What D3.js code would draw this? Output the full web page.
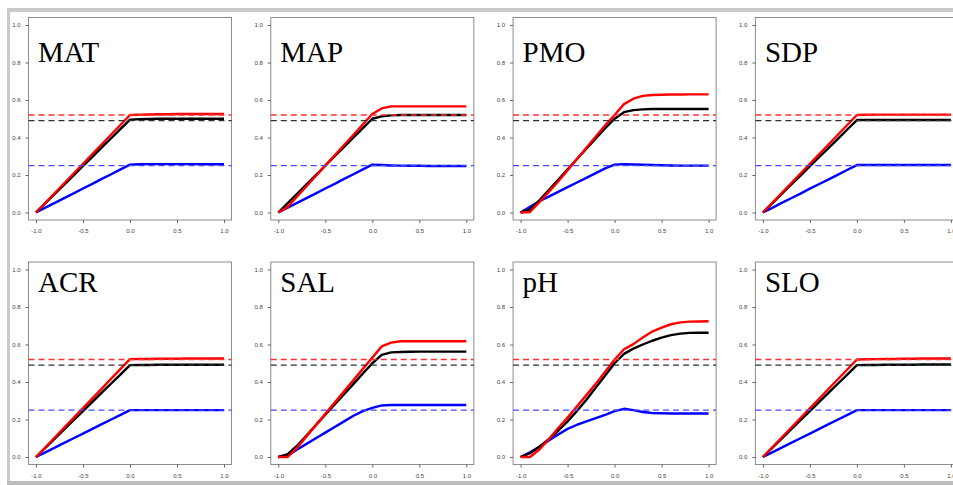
<!DOCTYPE html>
<html>
<head>
<meta charset="utf-8">
<script src="https://cdn.jsdelivr.net/npm/d3@7"></script>
<style>
  body { margin: 0; background: #fff; }
  svg { display: block; }
</style>
</head>
<body>
<div id="chart"></div>
<script>
// data
var panels = ["MAT", "MAP", "PMO", "SDP", "ACR", "SAL", "pH", "SLO"];
var xGrid = [-1, -0.9, -0.8, -0.7, -0.6, -0.5, -0.4, -0.3, -0.2, -0.1, 0,
             0.1, 0.2, 0.3, 0.4, 0.5, 0.6, 0.7, 0.8, 0.9, 1];
var xTicks = [-1, -0.5, 0, 0.5, 1];
var yTicks = [0, 0.2, 0.4, 0.6, 0.8, 1];
var refValues = [0.52, 0.49, 0.25];   // dashed reference lines: red, black, blue

var matRed   = [0, .052, .104, .156, .208, .26, .312, .364, .416, .468, .52, .522, .523, .524, .524, .525, .525, .525, .525, .525, .525];
var matBlack = [0, .05, .099, .149, .198, .248, .297, .347, .396, .446, .495, .498, .499, .5, .5, .5, .5, .5, .5, .5, .5];
var matBlue  = [0, .026, .051, .077, .102, .128, .153, .179, .204, .23, .255, .257, .258, .258, .258, .258, .258, .258, .257, .257, .257];

var mapRed   = [0, .03, .085, .14, .195, .25, .305, .36, .415, .47, .525, .555, .566, .566, .566, .566, .566, .566, .566, .566, .566];
var mapBlack = [0, .05, .1, .15, .2, .25, .3, .35, .4, .45, .5, .513, .518, .52, .52, .52, .52, .52, .52, .52, .52];
var mapBlue  = [0, .026, .051, .077, .102, .128, .153, .179, .204, .23, .255, .253, .251, .25, .249, .249, .248, .248, .248, .248, .248];

var pmoRed   = [0, .003, .055, .11, .165, .225, .285, .345, .405, .465, .52, .578, .607, .622, .627, .628, .629, .629, .63, .63, .63];
var pmoBlack = [0, .015, .065, .12, .175, .23, .285, .34, .395, .45, .5, .535, .546, .55, .552, .552, .552, .552, .552, .552, .552];
var pmoBlue  = [0, .03, .06, .085, .11, .135, .16, .185, .21, .235, .255, .258, .256, .255, .253, .252, .251, .25, .25, .25, .25];

var sdpRed   = [0, .052, .104, .156, .208, .26, .312, .364, .416, .468, .52, .521, .522, .522, .522, .522, .522, .522, .522, .522, .522];
var sdpBlack = [0, .049, .099, .148, .197, .247, .296, .345, .394, .444, .493, .493, .493, .493, .493, .493, .493, .493, .493, .493, .493];
var sdpBlue  = [0, .025, .051, .076, .101, .127, .152, .177, .202, .228, .253, .253, .253, .253, .253, .253, .253, .253, .253, .253, .253];

var acrRed   = [0, .052, .104, .157, .209, .261, .313, .365, .418, .47, .522, .523, .523, .524, .524, .524, .525, .525, .525, .525, .525];
var acrBlack = [0, .049, .098, .147, .196, .245, .294, .343, .392, .441, .49, .491, .491, .492, .492, .492, .492, .492, .492, .492, .492];
var acrBlue  = [0, .025, .05, .075, .1, .125, .15, .175, .2, .225, .25, .25, .25, .25, .25, .25, .25, .25, .25, .25, .25];

var salRed   = [0, 0, .05, .11, .17, .23, .29, .35, .41, .47, .53, .59, .61, .617, .617, .617, .617, .617, .617, .617, .617];
var salBlack = [0, .015, .06, .115, .17, .225, .28, .335, .39, .445, .5, .545, .558, .56, .561, .562, .562, .562, .562, .562, .562];
var salBlue  = [0, .006, .04, .07, .1, .13, .16, .19, .22, .245, .262, .275, .277, .277, .277, .277, .277, .277, .277, .277, .277];

var phRed    = [0, 0, .04, .095, .155, .21, .27, .33, .39, .455, .52, .575, .602, .637, .669, .69, .708, .718, .722, .723, .724];
var phBlack  = [0, .02, .055, .095, .14, .19, .245, .305, .37, .435, .5, .55, .578, .6, .62, .637, .65, .658, .662, .663, .663];
var phBlue   = [0, .025, .055, .088, .12, .15, .172, .19, .207, .225, .245, .257, .25, .24, .235, .233, .232, .232, .232, .232, .232];

var sloRed   = [0, .052, .104, .156, .208, .26, .312, .364, .416, .468, .52, .521, .522, .523, .523, .524, .524, .525, .525, .525, .525];
var sloBlack = [0, .049, .098, .147, .196, .245, .294, .343, .392, .441, .49, .491, .491, .492, .492, .492, .492, .493, .493, .493, .493];
var sloBlue  = [0, .025, .05, .075, .1, .125, .15, .175, .2, .225, .25, .25, .25, .25, .25, .25, .25, .25, .25, .25, .25];

var seriesByPanel = {
  MAT: [matBlue, matBlack, matRed],
  MAP: [mapBlue, mapBlack, mapRed],
  PMO: [pmoBlue, pmoBlack, pmoRed],
  SDP: [sdpBlue, sdpBlack, sdpRed],
  ACR: [acrBlue, acrBlack, acrRed],
  SAL: [salBlue, salBlack, salRed],
  pH:  [phBlue, phBlack, phRed],
  SLO: [sloBlue, sloBlack, sloRed]
};

// attr
var W = 953, H = 485;
var colors = ["#0000ff", "#000000", "#ff0000"];          // blue, black, red solids
var dashColors = ["#ff3030", "#303030", "#4848ff"];      // red, black, blue dashed
var colStep = 242.3, rowStep = 244.5;
var titleY = [62, 292];

var svg = d3.select("#chart")
  .append("svg")
  .attr("width", W)
  .attr("height", H);

// outer grey frame
svg.append("rect").attr("x", 7).attr("y", 8).attr("width", W).attr("height", 4).attr("fill", "#cacaca");
svg.append("rect").attr("x", 7).attr("y", 8).attr("width", 3).attr("height", H).attr("fill", "#cacaca");
svg.append("rect").attr("x", 7).attr("y", 481).attr("width", W).attr("height", 4).attr("fill", "#bdbdbd");

var fmt = function(d) { return d.toFixed(1); };

panels.forEach(function(name, i) {
  var c = i % 4, r = Math.floor(i / 4);
  var x = d3.scaleLinear().domain([-1, 1]).range([36 + c * colStep, 224 + c * colStep]);
  var y = d3.scaleLinear().domain([0, 1]).range([212.5 + r * rowStep, 25 + r * rowStep]);

  var g = svg.append("g").attr("class", "panel");
  var bx0 = x(-1.08), bx1 = x(1.08), by0 = y(1.04), by1 = y(-0.04);

  // box
  g.append("rect")
    .attr("x", bx0).attr("y", by0)
    .attr("width", bx1 - bx0).attr("height", by1 - by0)
    .attr("fill", "none")
    .attr("stroke", "#8c8c8c")
    .attr("stroke-width", 1);

  // axes
  var ax = g.append("g")
    .attr("transform", "translate(0," + by1 + ")")
    .call(d3.axisBottom(x).tickValues(xTicks).tickFormat(fmt).tickSize(3).tickSizeOuter(0).tickPadding(6));
  var ay = g.append("g")
    .attr("transform", "translate(" + bx0 + ",0)")
    .call(d3.axisLeft(y).tickValues(yTicks).tickFormat(fmt).tickSize(3).tickSizeOuter(0).tickPadding(5));
  [ax, ay].forEach(function(a) {
    a.select(".domain").remove();
    a.selectAll("line").attr("stroke", "#666");
    a.selectAll("text")
      .attr("fill", "#444")
      .style("font-family", "'Liberation Sans', Arial, sans-serif")
      .style("font-size", "6px");
  });

  // solid curves
  var line = d3.line()
    .x(function(d, k) { return x(xGrid[k]); })
    .y(function(d) { return y(d); });
  seriesByPanel[name].forEach(function(vals, k) {
    g.append("path")
      .datum(vals)
      .attr("d", line)
      .attr("fill", "none")
      .attr("stroke", colors[k])
      .attr("stroke-width", 2.4)
      .attr("stroke-linejoin", "round");
  });

  // dashed reference lines
  refValues.forEach(function(v, k) {
    g.append("line")
      .attr("x1", bx0).attr("x2", bx1)
      .attr("y1", y(v)).attr("y2", y(v))
      .attr("stroke", dashColors[k])
      .attr("stroke-width", 1.3)
      .attr("stroke-dasharray", "6,4");
  });

  // panel title
  g.append("text")
    .attr("x", x(-1) + 2)
    .attr("y", titleY[r])
    .text(name)
    .style("font-family", "'Liberation Serif', 'Times New Roman', serif")
    .style("font-size", "29px")
    .attr("fill", "#000");
});
</script>
</body>
</html>
